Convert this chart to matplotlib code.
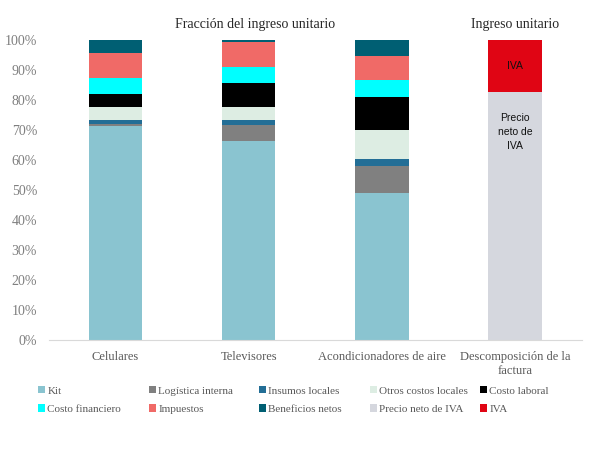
import numpy as np
import matplotlib.pyplot as plt

# categories
categorias = ["Celulares", "Televisores", "Acondicionadores de aire", "Descomposición de la\nfactura"]

# fractions of unit revenue (%), last bar is the invoice breakdown
kit = [71.2, 66.2, 49.1, 0]
logistica = [0.8, 5.4, 8.8, 0]
insumos = [1.3, 1.7, 2.5, 0]
otros = [4.4, 4.5, 9.7, 0]
laboral = [4.3, 7.9, 11.0, 0]
financiero = [5.4, 5.3, 5.5, 0]
impuestos = [8.3, 8.3, 8.2, 0]
beneficios = [4.3, 0.7, 5.2, 0]
precio_neto = [0, 0, 0, 82.6]
iva = [0, 0, 0, 17.4]

series = [
    ("Kit", kit, "#8ac4d0"),
    ("Logística interna", logistica, "#808080"),
    ("Insumos locales", insumos, "#236e96"),
    ("Otros costos locales", otros, "#ddede3"),
    ("Costo laboral", laboral, "#000000"),
    ("Costo financiero", financiero, "#00ffff"),
    ("Impuestos", impuestos, "#f06a67"),
    ("Beneficios netos", beneficios, "#005f73"),
    ("Precio neto de IVA", precio_neto, "#d5d7de"),
    ("IVA", iva, "#e00514"),
]

serif = ["Liberation Serif", "DejaVu Serif"]
sans = ["Liberation Sans", "DejaVu Sans"]
gray = "#595959"

fig = plt.figure(figsize=(5.97, 4.57), dpi=100)
ax = fig.add_axes([0.0818, 0.256, 0.8926, 0.6565])

x = np.arange(len(categorias))
bottom = np.zeros(len(categorias))
handles = []
for name, vals, color in series:
    vals = np.array(vals, dtype=float)
    b = ax.bar(x, vals / 100, 0.4, bottom=bottom / 100, color=color, label=name)
    handles.append(b)
    bottom += vals

# labels inside the last bar
ax.text(3, (precio_neto[3] + iva[3] / 2) / 100, "IVA", ha="center", va="center",
        fontsize=7.5, family=sans, color="#111111")
ax.text(3, 0.693, "Precio\nneto de\nIVA", ha="center", va="center", linespacing=1.45,
        fontsize=7.5, family=sans, color="#111111")

ax.set_xlim(-0.5, 3.5)
ax.set_ylim(0, 1)
yt = np.arange(0, 1.01, 0.1)
ax.set_yticks(yt)
ax.set_yticklabels([f"{int(round(v * 100))}%" for v in yt],
                   family=serif, fontsize=10, color="#7f7f7f")
ax.set_xticks(x)
ax.set_xticklabels(categorias, family=serif, fontsize=9, color=gray)
ax.tick_params(axis="both", length=0)
ax.tick_params(axis="x", pad=8)
ax.tick_params(axis="y", pad=8.5)
for s in ["top", "right", "left"]:
    ax.spines[s].set_visible(False)
ax.spines["bottom"].set_color("#d9d9d9")

# titles
ax.text(1.05, 1.05, "Fracción del ingreso unitario", ha="center", va="center",
        transform=ax.get_xaxis_transform(), family=serif, fontsize=10, color="#262626")
ax.text(3, 1.05, "Ingreso unitario", ha="center", va="center",
        transform=ax.get_xaxis_transform(), family=serif, fontsize=10, color="#262626")

# legend: five columns of two entries each
col_x = [38, 149, 259, 370, 480]
for c, px in enumerate(col_x):
    idx = [c, c + 5]
    leg = fig.legend([handles[i] for i in idx], [series[i][0] for i in idx],
                     loc="upper left", bbox_to_anchor=(px / 597, 0.155),
                     frameon=False, borderpad=0, borderaxespad=0,
                     handlelength=0.6, handleheight=0.6, handletextpad=0.25,
                     labelspacing=0.8, prop={"family": serif, "size": 8})
    for t in leg.get_texts():
        t.set_color(gray)

fig.savefig("out.png", dpi=100)
